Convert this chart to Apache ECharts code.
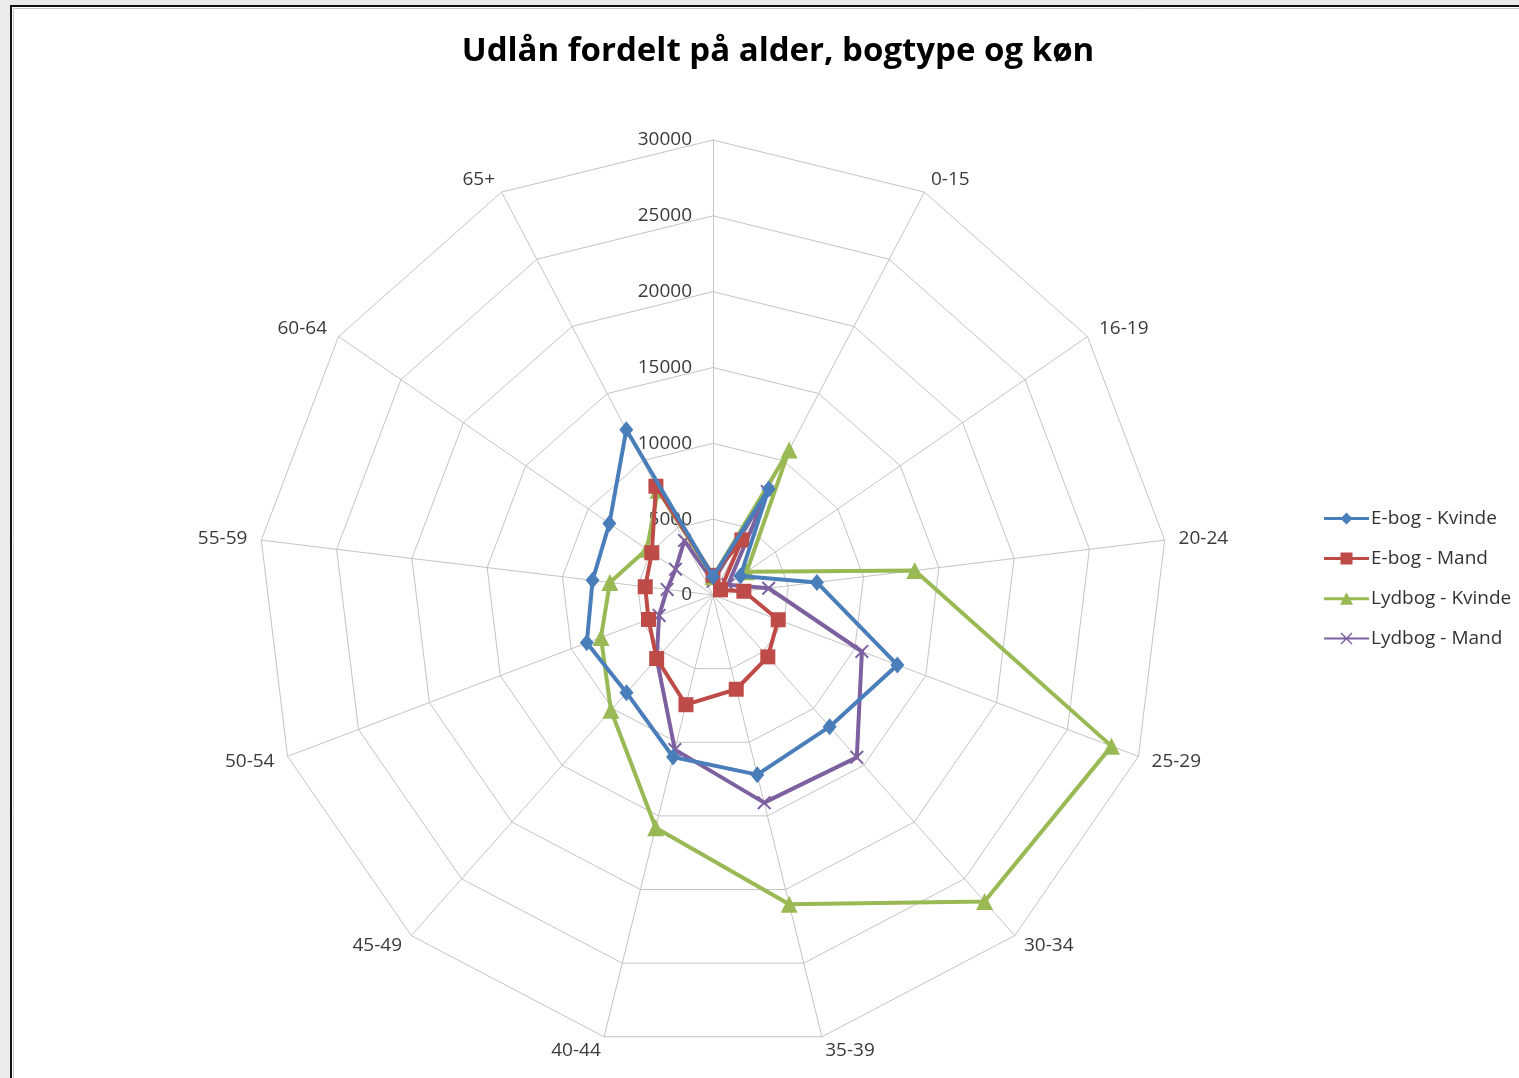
<!DOCTYPE html>
<html>
<head>
<meta charset="utf-8">
<script src="https://cdn.jsdelivr.net/npm/echarts@6/dist/echarts.min.js"></script>
<style>
html,body{margin:0;padding:0;background:#fff;}
#chart{width:1519px;height:1078px;}
</style>
</head>
<body>
<div id="chart"></div>
<script>
// ---- data ----
const categories = ['', '0-15', '16-19', '20-24', '25-29', '30-34', '35-39', '40-44', '45-49', '50-54', '55-59', '60-64', '65+'];
const seriesNames = ['E-bog - Kvinde', 'E-bog - Mand', 'Lydbog - Kvinde', 'Lydbog - Mand'];
const ebogKvinde   = [1200, 7900, 2200, 6900, 13000, 11600, 12200, 11000, 8600, 8900, 8000, 8300, 12300];
const ebogMand     = [1300, 4100,  600, 2050,  4600,  5450,  6400,  7450, 5600, 4550, 4500, 4900,  8100];
const lydbogKvinde = [1200, 10800, 2700, 13400, 28100, 27000, 21000, 15800, 10150, 7900, 6850, 5300, 7800];
const lydbogMand   = [ 900, 7700, 1200, 3700, 10500, 14300, 14100, 10500, 5600, 3800, 3050, 3000, 4050];
const axisMin = 0, axisMax = 30000, axisSplits = 6;

// ---- styling ----
const colors = ['#4A7EBB', '#BE4B48', '#98B954', '#7D60A0'];
const xPath = 'path://M0,1 L1,0 L5,4 L9,0 L10,1 L6,5 L10,9 L9,10 L5,6 L1,10 L0,9 L4,5 Z';
const symbols = ['diamond', 'rect', 'triangle', xPath];
const symbolSizes = [[14, 17], 15, 17, 14];
const legendIcons = [
  'path://M0,5.5 H45 V8.5 H0 Z M22.5,1 L28.5,7 L22.5,13 L16.5,7 Z',
  'path://M0,5.5 H45 V8.5 H0 Z M16.5,1 H28.5 V13 H16.5 Z',
  'path://M0,5.5 H45 V8.5 H0 Z M22.5,0.5 L29,13 L16,13 Z',
  'path://M0,6 H45 V8 H0 Z M16.5,2 L17.5,1 L22.5,6 L27.5,1 L28.5,2 L23.5,7 L28.5,12 L27.5,13 L22.5,8 L17.5,13 L16.5,12 L21.5,7 Z'
];
const FONT = '"Open Sans", "Noto Sans", sans-serif';

// ECharts radar places indicators counter-clockwise; the reference runs clockwise,
// so keep the first (top) axis and reverse the rest.
function clockwiseOrder(arr) { return [arr[0]].concat(arr.slice(1).reverse()); }

const cats = clockwiseOrder(categories);
const indicator = cats.map((c, i) => {
  const ind = { name: c, min: axisMin, max: axisMax };
  if (i === 0) {
    ind.axisLabel = {
      show: true, color: '#3a3a3a', fontSize: 19, fontFamily: FONT, margin: 21,
      formatter: v => String(v)
    };
  }
  return ind;
});

const allValues = [ebogKvinde, ebogMand, lydbogKvinde, lydbogMand];

const chart = echarts.init(document.getElementById('chart'), null, { renderer: 'canvas' });
chart.setOption({
  backgroundColor: '#ffffff',
  animation: false,
  graphic: [
    { type: 'rect', z: -10, silent: true, shape: { x: 0, y: 0, width: 1519, height: 1078 }, style: { fill: '#ebebeb' } },
    { type: 'rect', z: -9, silent: true, shape: { x: 11, y: 6, width: 1540, height: 1100 }, style: { fill: '#ffffff', stroke: '#111111', lineWidth: 2 } },
    { type: 'rect', z: -8, silent: true, shape: { x: 13.5, y: 8.5, width: 1540, height: 1100 }, style: { fill: 'none', stroke: '#c8c8c8', lineWidth: 1 } }
  ],
  title: {
    text: 'Udlån fordelt på alder, bogtype og køn',
    left: 773,
    top: 30,
    textAlign: 'center',
    textStyle: { fontFamily: FONT, fontSize: 33, fontWeight: 'bold', color: '#000000' }
  },
  legend: {
    orient: 'vertical',
    left: 1319,
    top: 504,
    itemWidth: 45,
    itemHeight: 14,
    itemGap: 21,
    textStyle: { fontFamily: FONT, fontSize: 19, color: '#333333', padding: [0, 0, 0, -3] },
    data: seriesNames.map((n, i) => ({ name: n, icon: legendIcons[i] }))
  },
  radar: {
    center: [713, 595],
    radius: 455,
    startAngle: 90,
    splitNumber: axisSplits,
    shape: 'polygon',
    axisName: { color: '#3a3a3a', fontSize: 19, fontFamily: FONT },
    nameGap: 14,
    axisLine: { show: true, lineStyle: { color: '#c4c4c4', width: 1 } },
    splitLine: { show: true, lineStyle: { color: '#c4c4c4', width: 1 } },
    splitArea: { show: false },
    axisTick: { show: false },
    axisLabel: { show: false },
    indicator: indicator
  },
  series: seriesNames.map((n, i) => ({
    type: 'radar',
    name: n,
    z: 10 - i,
    symbol: symbols[i],
    symbolSize: symbolSizes[i],
    lineStyle: { color: colors[i], width: 4 },
    itemStyle: { color: colors[i] },
    data: [{ name: n, value: clockwiseOrder(allValues[i]), lineStyle: { color: colors[i], width: 4 } }]
  }))
});
</script>
</body>
</html>
